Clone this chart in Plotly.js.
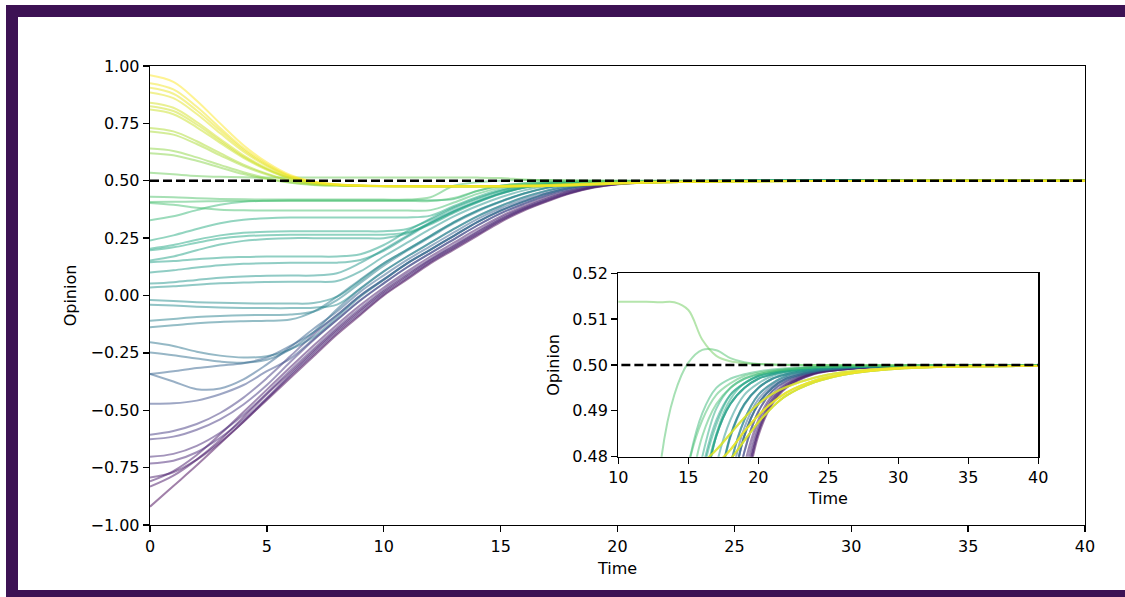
<!DOCTYPE html>
<html>
<head>
<meta charset="utf-8">
<script src="https://cdn.plot.ly/plotly-3.0.1.min.js"></script>
<style>
html,body{margin:0;padding:0;background:#fff;}
#wrap{position:relative;width:1125px;height:597px;overflow:hidden;background:#fff;}
#chart{position:absolute;left:0;top:0;width:1125px;height:597px;}
.bar{position:absolute;background:#3d1254;}
</style>
</head>
<body>
<div id="wrap">
  <div id="chart"></div>
  <div class="bar" style="left:6px;top:5px;width:1119px;height:12px"></div>
  <div class="bar" style="left:6px;top:5px;width:12px;height:592px"></div>
  <div class="bar" style="left:6px;top:590px;width:1119px;height:7px"></div>
</div>
<script>
// ---- data ----
const time = [0,1,2,3,4,5,6,7,8,9,10,11,12,13,14,15,16,17,18,19,20,21,22,24,26,28,30,35,40];
const consensus = 0.5;
const timeRange = [0, 40];
const insetTimeRange = [10, 40];
const insetOpinionRange = [0.48, 0.52];

const purpleLines = [
  [-0.92,-0.83,-0.74,-0.645,-0.55,-0.455,-0.36,-0.265,-0.17,-0.085,0,0.07,0.14,0.2,0.26,0.32,0.37,0.41,0.445,0.47,0.4845,0.4915,0.495,0.498,0.499,0.4995,0.4997,0.4999,0.5],
  [-0.833,-0.785,-0.715,-0.63,-0.53,-0.43,-0.336,-0.241,-0.148,-0.063,0.018,0.088,0.155,0.215,0.275,0.333,0.38,0.419,0.452,0.474,0.486,0.4925,0.4955,0.4982,0.499,0.4995,0.4997,0.4999,0.5],
  [-0.81,-0.765,-0.695,-0.605,-0.508,-0.41,-0.313,-0.218,-0.127,-0.042,0.035,0.105,0.17,0.23,0.29,0.345,0.39,0.428,0.458,0.478,0.488,0.4935,0.496,0.4983,0.4991,0.4995,0.4997,0.4999,0.5],
  [-0.793,-0.77,-0.715,-0.64,-0.55,-0.45,-0.352,-0.257,-0.163,-0.079,0.005,0.075,0.145,0.205,0.265,0.325,0.374,0.413,0.447,0.4712,0.4852,0.4918,0.4952,0.4981,0.499,0.4995,0.4997,0.4999,0.5],
  [-0.732,-0.72,-0.683,-0.62,-0.54,-0.447,-0.345,-0.248,-0.155,-0.07,0.012,0.082,0.15,0.21,0.27,0.328,0.377,0.416,0.449,0.4725,0.4855,0.4922,0.4954,0.4982,0.499,0.4995,0.4997,0.4999,0.5],
  [-0.703,-0.69,-0.655,-0.598,-0.52,-0.425,-0.327,-0.232,-0.14,-0.055,0.025,0.095,0.16,0.22,0.28,0.338,0.384,0.423,0.455,0.476,0.487,0.493,0.4958,0.4983,0.4991,0.4995,0.4997,0.4999,0.5],
  [-0.626,-0.615,-0.585,-0.54,-0.475,-0.39,-0.29,-0.194,-0.106,-0.021,0.053,0.123,0.185,0.245,0.305,0.358,0.4,0.437,0.464,0.481,0.4898,0.4943,0.4965,0.4985,0.4992,0.4996,0.4997,0.4999,0.5],
  [-0.607,-0.59,-0.56,-0.512,-0.445,-0.36,-0.265,-0.17,-0.085,0,0.07,0.14,0.2,0.26,0.32,0.37,0.41,0.445,0.47,0.4845,0.4915,0.495,0.497,0.4986,0.4993,0.4996,0.4998,0.4999,0.5]
];

const tealLines = [
  [-0.472,-0.47,-0.458,-0.43,-0.39,-0.33,-0.275,-0.19,-0.106,-0.021,0.053,0.123,0.185,0.245,0.305,0.358,0.4,0.437,0.464,0.481,0.4898,0.4943,0.4965,0.4985,0.4992,0.4996,0.4997,0.4999,0.5],
  [-0.342,-0.375,-0.408,-0.405,-0.365,-0.3,-0.225,-0.145,-0.07,0.017,0.088,0.155,0.215,0.275,0.333,0.38,0.419,0.452,0.474,0.4863,0.4925,0.4955,0.4973,0.4987,0.4993,0.4996,0.4998,0.4999,0.5],
  [-0.342,-0.33,-0.316,-0.305,-0.295,-0.27,-0.22,-0.16,-0.085,0,0.07,0.14,0.2,0.26,0.32,0.37,0.41,0.445,0.47,0.4845,0.4915,0.495,0.497,0.4986,0.4993,0.4996,0.4998,0.4999,0.5],
  [-0.248,-0.26,-0.275,-0.288,-0.293,-0.28,-0.235,-0.16,-0.06,0.03,0.105,0.17,0.23,0.29,0.345,0.39,0.428,0.458,0.478,0.488,0.4935,0.496,0.4976,0.4988,0.4994,0.4996,0.4998,0.4999,0.5],
  [-0.204,-0.22,-0.245,-0.262,-0.27,-0.265,-0.235,-0.18,-0.095,-0.005,0.068,0.14,0.2,0.26,0.32,0.37,0.41,0.445,0.47,0.4845,0.4915,0.495,0.497,0.4986,0.4993,0.4996,0.4998,0.4999,0.5],
  [-0.138,-0.13,-0.121,-0.115,-0.112,-0.11,-0.105,-0.07,-0.005,0.07,0.14,0.2,0.26,0.32,0.37,0.41,0.445,0.47,0.4845,0.4915,0.495,0.497,0.498,0.499,0.4995,0.4997,0.4998,0.4999,0.5],
  [-0.11,-0.102,-0.094,-0.089,-0.086,-0.085,-0.083,-0.07,-0.02,0.055,0.13,0.195,0.255,0.315,0.366,0.408,0.443,0.469,0.4842,0.4913,0.495,0.497,0.498,0.499,0.4995,0.4997,0.4998,0.4999,0.5],
  [-0.04,-0.044,-0.049,-0.052,-0.054,-0.055,-0.055,-0.053,-0.04,0.03,0.105,0.17,0.23,0.29,0.345,0.39,0.428,0.458,0.478,0.488,0.4935,0.496,0.4976,0.4988,0.4994,0.4996,0.4998,0.4999,0.5],
  [-0.02,-0.024,-0.029,-0.032,-0.034,-0.035,-0.035,-0.033,-0.005,0.065,0.14,0.2,0.26,0.32,0.37,0.41,0.445,0.47,0.4845,0.4915,0.495,0.497,0.498,0.499,0.4995,0.4997,0.4998,0.4999,0.5]
];

const greenLines = [
  [0.035,0.04,0.047,0.053,0.057,0.059,0.06,0.06,0.063,0.105,0.17,0.23,0.29,0.345,0.39,0.428,0.458,0.478,0.488,0.4935,0.496,0.4976,0.4983,0.4991,0.4995,0.4997,0.4998,0.4999,0.5],
  [0.052,0.058,0.068,0.077,0.083,0.086,0.087,0.087,0.097,0.142,0.2,0.26,0.32,0.37,0.41,0.445,0.47,0.4845,0.4915,0.495,0.497,0.498,0.4986,0.4993,0.4996,0.4997,0.4998,0.4999,0.5],
  [0.1,0.11,0.122,0.132,0.138,0.141,0.143,0.143,0.143,0.155,0.195,0.255,0.315,0.366,0.407,0.443,0.469,0.4845,0.4915,0.495,0.497,0.498,0.4986,0.4993,0.4996,0.4997,0.4998,0.4999,0.5],
  [0.145,0.15,0.158,0.165,0.168,0.17,0.17,0.17,0.17,0.18,0.22,0.28,0.335,0.385,0.425,0.456,0.477,0.488,0.4935,0.496,0.4976,0.4983,0.4988,0.4994,0.4996,0.4998,0.4998,0.4999,0.5],
  [0.153,0.17,0.197,0.222,0.238,0.246,0.25,0.25,0.25,0.25,0.25,0.27,0.31,0.36,0.405,0.443,0.47,0.4845,0.4915,0.495,0.497,0.498,0.4986,0.4993,0.4996,0.4997,0.4998,0.4999,0.5],
  [0.197,0.21,0.23,0.248,0.258,0.263,0.265,0.265,0.265,0.265,0.265,0.275,0.315,0.365,0.41,0.447,0.472,0.485,0.4925,0.496,0.4976,0.4983,0.4988,0.4994,0.4996,0.4998,0.4998,0.4999,0.5],
  [0.204,0.22,0.243,0.262,0.273,0.278,0.28,0.28,0.28,0.28,0.28,0.29,0.33,0.38,0.42,0.455,0.476,0.487,0.4935,0.496,0.4976,0.4983,0.4988,0.4994,0.4996,0.4998,0.4998,0.4999,0.5],
  [0.24,0.262,0.29,0.315,0.33,0.337,0.34,0.34,0.34,0.34,0.34,0.34,0.348,0.39,0.43,0.462,0.48,0.4905,0.495,0.497,0.498,0.4986,0.499,0.4995,0.4997,0.4998,0.4998,0.4999,0.5],
  [0.328,0.345,0.372,0.395,0.408,0.413,0.415,0.415,0.415,0.415,0.415,0.415,0.415,0.42,0.455,0.478,0.4895,0.495,0.497,0.498,0.4986,0.499,0.4993,0.4996,0.4997,0.4998,0.4998,0.4999,0.5],
  [0.403,0.395,0.382,0.374,0.371,0.37,0.37,0.37,0.37,0.37,0.37,0.37,0.372,0.405,0.443,0.47,0.4845,0.4915,0.495,0.497,0.498,0.4986,0.499,0.4995,0.4997,0.4998,0.4998,0.4999,0.5],
  [0.407,0.408,0.41,0.411,0.412,0.412,0.412,0.412,0.412,0.412,0.412,0.412,0.412,0.425,0.456,0.478,0.488,0.4935,0.496,0.4976,0.4983,0.4988,0.4991,0.4995,0.4997,0.4998,0.4998,0.4999,0.5],
  [0.43,0.428,0.424,0.421,0.419,0.418,0.418,0.418,0.418,0.418,0.418,0.418,0.428,0.478,0.4935,0.5005,0.5033,0.5032,0.5015,0.5006,0.5002,0.5001,0.50005,0.5,0.5,0.5,0.5,0.5,0.5],
  [0.535,0.528,0.521,0.517,0.515,0.514,0.514,0.514,0.514,0.514,0.5138,0.5138,0.5138,0.5137,0.5137,0.512,0.5055,0.502,0.5008,0.5004,0.5002,0.5001,0.5,0.5,0.5,0.5,0.5,0.5,0.5]
];

const yellowLines = [
  [0.62,0.611,0.587,0.558,0.529,0.507,0.491,0.482,0.479,0.477,0.4763,0.4755,0.475,0.475,0.475,0.475,0.4755,0.477,0.4795,0.4835,0.4875,0.4908,0.4933,0.4962,0.4978,0.4987,0.4992,0.4997,0.4998],
  [0.64,0.63,0.602,0.569,0.537,0.511,0.493,0.483,0.479,0.477,0.4763,0.476,0.476,0.476,0.476,0.4762,0.4768,0.4785,0.4815,0.4855,0.489,0.4918,0.494,0.4966,0.498,0.4988,0.4993,0.4997,0.4998],
  [0.715,0.701,0.66,0.611,0.564,0.527,0.5,0.486,0.48,0.477,0.4768,0.4768,0.4768,0.4768,0.477,0.4775,0.4788,0.4815,0.485,0.4885,0.4915,0.4937,0.4952,0.4972,0.4984,0.499,0.4994,0.4997,0.4998],
  [0.73,0.715,0.672,0.62,0.57,0.531,0.502,0.487,0.481,0.478,0.4765,0.4755,0.475,0.475,0.475,0.475,0.4755,0.477,0.4795,0.4835,0.4875,0.4908,0.4933,0.4962,0.4978,0.4987,0.4992,0.4997,0.4998],
  [0.81,0.79,0.733,0.665,0.6,0.548,0.51,0.49,0.482,0.478,0.477,0.476,0.476,0.476,0.476,0.4762,0.4768,0.4785,0.4815,0.4855,0.489,0.4918,0.494,0.4966,0.498,0.4988,0.4993,0.4997,0.4998],
  [0.825,0.804,0.745,0.674,0.605,0.551,0.511,0.491,0.482,0.478,0.477,0.4768,0.4768,0.4768,0.477,0.4775,0.4788,0.4815,0.485,0.4885,0.4915,0.4937,0.4952,0.4972,0.4984,0.499,0.4994,0.4997,0.4998],
  [0.84,0.818,0.756,0.682,0.611,0.554,0.513,0.492,0.483,0.478,0.4765,0.4755,0.475,0.475,0.475,0.475,0.4755,0.477,0.4795,0.4835,0.4875,0.4908,0.4933,0.4962,0.4978,0.4987,0.4992,0.4997,0.4998],
  [0.885,0.86,0.791,0.707,0.627,0.564,0.517,0.494,0.483,0.478,0.477,0.476,0.476,0.476,0.476,0.4762,0.4768,0.4785,0.4815,0.4855,0.489,0.4918,0.494,0.4966,0.498,0.4988,0.4993,0.4997,0.4998],
  [0.905,0.879,0.806,0.719,0.635,0.568,0.519,0.494,0.484,0.479,0.477,0.4768,0.4768,0.4768,0.477,0.4775,0.4788,0.4815,0.485,0.4885,0.4915,0.4937,0.4952,0.4972,0.4984,0.499,0.4994,0.4997,0.4998],
  [0.925,0.898,0.822,0.73,0.642,0.573,0.521,0.495,0.484,0.479,0.4765,0.4755,0.475,0.475,0.475,0.475,0.4755,0.477,0.4795,0.4835,0.4875,0.4908,0.4933,0.4962,0.4978,0.4987,0.4992,0.4997,0.4998],
  [0.96,0.931,0.849,0.75,0.655,0.58,0.525,0.497,0.485,0.479,0.477,0.476,0.476,0.476,0.476,0.4762,0.4768,0.4785,0.4815,0.4855,0.489,0.4918,0.494,0.4966,0.498,0.4988,0.4993,0.4997,0.4998]
];

// ---- styling ----
const viridis = ['#440154','#482475','#414487','#355f8d','#2a788e','#21918c','#22a884','#44bf70','#7ad151','#bddf26','#fde725'];
function hexToRgb(h){return [parseInt(h.slice(1,3),16),parseInt(h.slice(3,5),16),parseInt(h.slice(5,7),16)];}
function viridisColor(f, alpha){
  f = Math.max(0, Math.min(1, f));
  const p = f * (viridis.length - 1);
  const i = Math.min(Math.floor(p), viridis.length - 2);
  const r = p - i;
  const a = hexToRgb(viridis[i]), b = hexToRgb(viridis[i+1]);
  const c = a.map((v,k)=>Math.round(v + (b[k]-v)*r));
  return 'rgba(' + c[0] + ',' + c[1] + ',' + c[2] + ',' + alpha + ')';
}

const allLines = purpleLines.concat(tealLines, greenLines, yellowLines)
  .slice().sort((a,b)=>a[0]-b[0]);
const inits = allLines.map(l=>l[0]);
const minInit = Math.min(...inits), maxInit = Math.max(...inits);

const traces = [];
['', '2'].forEach(function(ax){
  allLines.forEach(function(vals){
    traces.push({
      x: time, y: vals, type: 'scatter', mode: 'lines',
      xaxis: 'x' + ax, yaxis: 'y' + ax,
      line: {color: viridisColor((vals[0]-minInit)/(maxInit-minInit), 0.5), width: 2, shape: 'spline', smoothing: 1},
      hoverinfo: 'skip', showlegend: false
    });
  });
  traces.push({
    x: timeRange, y: [consensus, consensus], type: 'scatter', mode: 'lines',
    xaxis: 'x' + ax, yaxis: 'y' + ax,
    line: {color: '#000', width: 2.5, dash: '9px,4px'},
    hoverinfo: 'skip', showlegend: false
  });
});

const font = {family: 'DejaVu Sans, sans-serif', size: 16, color: '#000'};
const axisCommon = {
  showline: true, mirror: true, linecolor: '#000', linewidth: 1.3,
  ticks: 'outside', ticklen: 6, tickwidth: 1.3, tickcolor: '#000',
  showgrid: false, zeroline: false, tickfont: font
};

const layout = {
  width: 1125, height: 597,
  margin: {l: 150, r: 40, t: 66, b: 72},
  paper_bgcolor: '#fff', plot_bgcolor: 'rgba(0,0,0,0)',
  font: font, showlegend: false, hovermode: false,
  xaxis: Object.assign({}, axisCommon, {
    range: timeRange, tick0: 0, dtick: 5,
    title: {text: 'Time', font: font, standoff: 8}
  }),
  yaxis: Object.assign({}, axisCommon, {
    range: [-1, 1], tick0: -1, dtick: 0.25, tickformat: '.2f',
    title: {text: 'Opinion', font: font, standoff: 10}
  }),
  xaxis2: Object.assign({}, axisCommon, {
    domain: [0.5009, 0.9500], anchor: 'y2',
    range: insetTimeRange, tick0: 10, dtick: 5,
    title: {text: 'Time', font: font, standoff: 6}
  }),
  yaxis2: Object.assign({}, axisCommon, {
    domain: [0.1488, 0.5484], anchor: 'x2',
    range: insetOpinionRange, tick0: 0.48, dtick: 0.01, tickformat: '.2f',
    title: {text: 'Opinion', font: font, standoff: 8}
  })
};

Plotly.newPlot('chart', traces, layout, {displayModeBar: false, staticPlot: true});
</script>
</body>
</html>
